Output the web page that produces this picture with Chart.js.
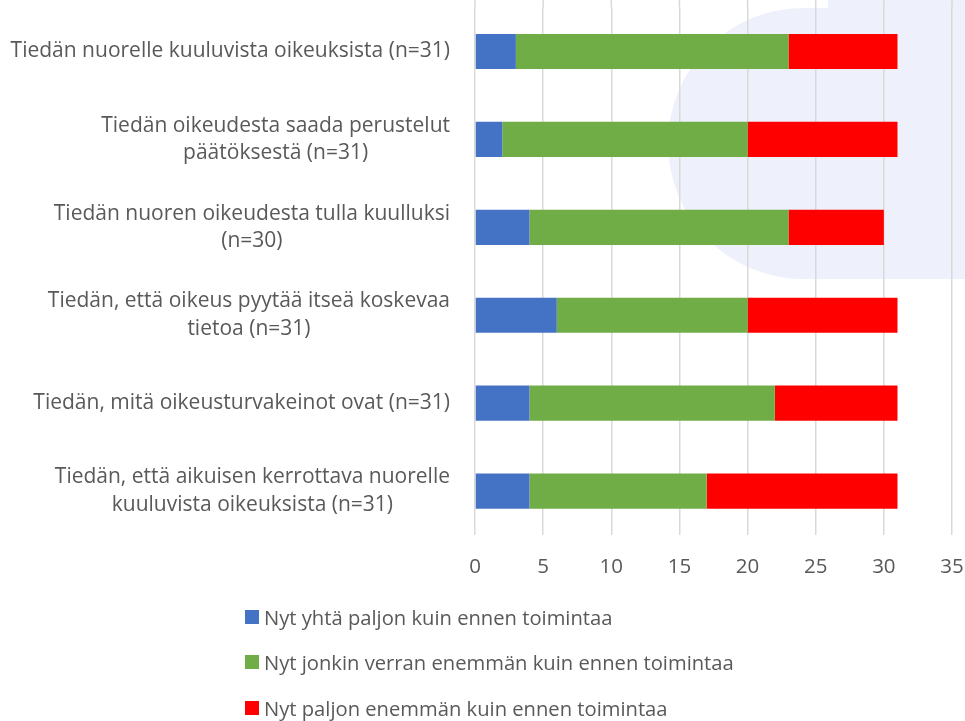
<!DOCTYPE html>
<html>
<head>
<meta charset="utf-8">
<script src="https://cdn.jsdelivr.net/npm/chart.js@4"></script>
<style>
  body { margin: 0; background: #fff; }
  #wrap { position: relative; width: 965px; height: 721px; overflow: hidden; }
  .bg1 { position: absolute; left: 668px; top: 8px; width: 297px; height: 271px; border-radius: 136px 0 0 136px; background: #eef1fc; }
  .bg2 { position: absolute; left: 828px; top: 0; width: 137px; height: 279px; background: #eef1fc; }
  canvas { position: absolute; left: 0; top: 0; }
  #legend { position: absolute; left: 245px; top: 594px; font-family: "Open Sans", sans-serif; font-size: 20.2px; line-height: 24px; color: #595959; }
  .item { height: 45.5px; display: flex; align-items: center; white-space: nowrap; }
  .sw { width: 14px; height: 14px; margin-right: 5px; }
</style>
</head>
<body>
<div id="wrap">
  <div class="bg1"></div>
  <div class="bg2"></div>
  <canvas id="chart" width="965" height="721"></canvas>
  <div id="legend"></div>
</div>
<script>
var categories = [
  ['Tiedän nuorelle kuuluvista oikeuksista (n=31)'],
  ['Tiedän oikeudesta saada perustelut', 'päätöksestä (n=31)'],
  ['Tiedän nuoren oikeudesta tulla kuulluksi', '(n=30)'],
  ['Tiedän, että oikeus pyytää itseä koskevaa', 'tietoa (n=31)'],
  ['Tiedän, mitä oikeusturvakeinot ovat (n=31)'],
  ['Tiedän, että aikuisen kerrottava nuorelle', 'kuuluvista oikeuksista (n=31)']
];
var seriesNames = [
  'Nyt yhtä paljon kuin ennen toimintaa',
  'Nyt jonkin verran enemmän kuin ennen toimintaa',
  'Nyt paljon enemmän kuin ennen toimintaa'
];
var sameAsBefore = [3, 2, 4, 6, 4, 4];
var somewhatMore = [20, 18, 19, 14, 18, 13];
var muchMore = [8, 11, 7, 11, 9, 14];
var seriesColors = ['#4472C4', '#70AD47', '#FF0000'];
var xTicks = [0, 5, 10, 15, 20, 25, 30, 35];

var textColor = '#595959';
var gridColor = '#d9d9d9';
var fontFamily = '"Open Sans", sans-serif';

var categoryLabels = {
  id: 'categoryLabels',
  beforeDatasetsDraw: function (chart) {
    // gridlines run up to the top edge like in the original
    var ctx = chart.ctx;
    var xScale = chart.scales.x;
    ctx.save();
    ctx.strokeStyle = gridColor;
    ctx.lineWidth = 1.5;
    xTicks.forEach(function (v) {
      var x = xScale.getPixelForValue(v);
      ctx.beginPath();
      ctx.moveTo(x, 0);
      ctx.lineTo(x, chart.chartArea.top);
      ctx.stroke();
    });
    ctx.restore();
  },
  afterDraw: function (chart) {
    // labels: block right-aligned, lines centered inside the block
    var ctx = chart.ctx;
    var yScale = chart.scales.y;
    var rightEdge = 450;
    var lineHeight = 27.5;
    ctx.save();
    ctx.font = '21px ' + fontFamily;
    ctx.fillStyle = textColor;
    ctx.textAlign = 'center';
    ctx.textBaseline = 'middle';
    categories.forEach(function (lines, i) {
      var w = 0;
      lines.forEach(function (l) { w = Math.max(w, ctx.measureText(l).width); });
      var cx = rightEdge - w / 2;
      var cy = yScale.getPixelForValue(i);
      var y0 = cy - (lines.length - 1) * lineHeight / 2;
      lines.forEach(function (l, j) { ctx.fillText(l, cx, y0 + j * lineHeight); });
    });
    ctx.restore();
  }
};

var chart = new Chart(document.getElementById('chart').getContext('2d'), {
  type: 'bar',
  data: {
    labels: categories,
    datasets: [
      { label: seriesNames[0], data: sameAsBefore, backgroundColor: seriesColors[0] },
      { label: seriesNames[1], data: somewhatMore, backgroundColor: seriesColors[1] },
      { label: seriesNames[2], data: muchMore, backgroundColor: seriesColors[2] }
    ]
  },
  options: {
    indexAxis: 'y',
    responsive: false,
    animation: false,
    layout: { padding: { left: 475, right: 13, top: 7.5, bottom: 146 } },
    datasets: { bar: { categoryPercentage: 1, barPercentage: 0.4 } },
    plugins: { legend: { display: false }, tooltip: { enabled: false } },
    scales: {
      x: {
        stacked: true,
        min: 0,
        max: 35,
        afterFit: function (s) { s.height = 40; s.paddingLeft = 0; s.paddingRight = 0; },
        afterBuildTicks: function (s) { s.ticks = xTicks.map(function (v) { return { value: v }; }); },
        grid: { color: gridColor, lineWidth: 1.5, drawTicks: false },
        border: { display: false },
        ticks: { color: textColor, font: { family: fontFamily, size: 20.5 }, padding: 20, maxRotation: 0 }
      },
      y: {
        stacked: true,
        display: false
      }
    }
  },
  plugins: [categoryLabels]
});

var legend = document.getElementById('legend');
seriesNames.forEach(function (name, i) {
  var row = document.createElement('div');
  row.className = 'item';
  var sw = document.createElement('span');
  sw.className = 'sw';
  sw.style.background = seriesColors[i];
  row.appendChild(sw);
  row.appendChild(document.createTextNode(name));
  legend.appendChild(row);
});
</script>
</body>
</html>
